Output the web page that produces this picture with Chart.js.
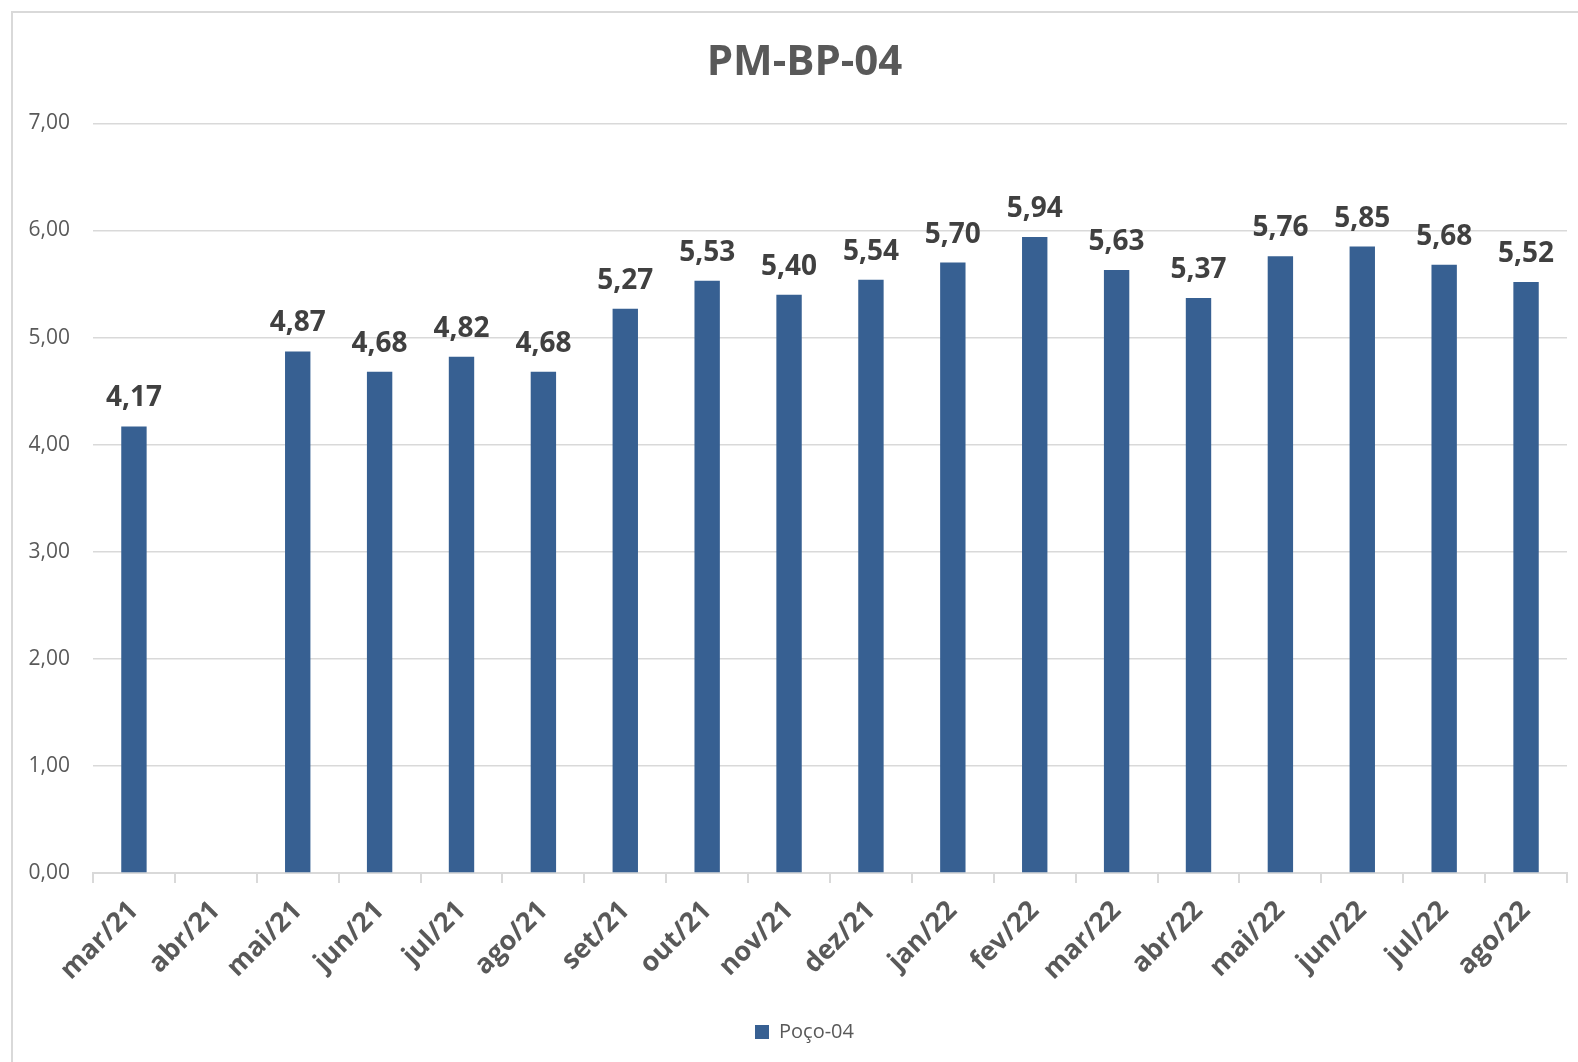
<!DOCTYPE html>
<html>
<head>
<meta charset="utf-8">
<title>PM-BP-04</title>
<script src="https://cdn.jsdelivr.net/npm/chart.js@4.4.1/dist/chart.umd.min.js"></script>
<style>
    html, body { margin: 0; padding: 0; background: #ffffff; }
    #wrap { position: relative; width: 1578px; height: 1062px; overflow: hidden; }
    #frame {
        position: absolute; left: 11px; top: 11px; right: -4px; bottom: -4px;
        border: 2px solid #d9d9d9;
    }
    #levelChart { position: absolute; left: 0; top: 0; }
</style>
</head>
<body>
<div id="wrap">
    <div id="frame"></div>
    <canvas id="levelChart" width="1578" height="1062"></canvas>
</div>
<script>
// Monthly readings for well PM-BP-04 (abr/21 has no reading)
const months = ['mar/21', 'abr/21', 'mai/21', 'jun/21', 'jul/21', 'ago/21', 'set/21', 'out/21', 'nov/21',
    'dez/21', 'jan/22', 'fev/22', 'mar/22', 'abr/22', 'mai/22', 'jun/22', 'jul/22', 'ago/22'];
const poco04 = [4.17, null, 4.87, 4.68, 4.82, 4.68, 5.27, 5.53, 5.40,
    5.54, 5.70, 5.94, 5.63, 5.37, 5.76, 5.85, 5.68, 5.52];
const yTicks = [0, 1, 2, 3, 4, 5, 6, 7];

const FONT = "'Open Sans', 'DejaVu Sans', sans-serif";
const BAR_COLOR = '#376092';
const GRID_COLOR = '#d9d9d9';

const fmt = v => v.toFixed(2).replace('.', ',');

// Value labels above each bar
const barValueLabels = {
    id: 'barValueLabels',
    afterDatasetsDraw(chart) {
        const ctx = chart.ctx;
        const meta = chart.getDatasetMeta(0);
        ctx.save();
        ctx.font = `bold 28px ${FONT}`;
        ctx.fillStyle = '#404040';
        ctx.textAlign = 'center';
        ctx.textBaseline = 'alphabetic';
        meta.data.forEach((bar, i) => {
            const v = chart.data.datasets[0].data[i];
            if (v === null || v === undefined) return;
            ctx.fillText(fmt(v), bar.x, bar.y - 20);
        });
        ctx.restore();
    }
};

// Center title and legend over the framed area instead of the full canvas
const centerBlocks = {
    id: 'centerBlocks',
    afterLayout(chart) {
        if (chart.titleBlock) chart.titleBlock.left += 42;
        if (chart.legend) chart.legend.left += 42;
    }
};

new Chart(document.getElementById('levelChart'), {
    type: 'bar',
    data: {
        labels: months,
        datasets: [{
            label: 'Poço-04',
            data: poco04,
            backgroundColor: BAR_COLOR,
            borderWidth: 0,
            barPercentage: 0.31,
            categoryPercentage: 1
        }]
    },
    options: {
        responsive: false,
        animation: false,
        devicePixelRatio: 1,
        layout: { padding: { left: 0, right: 11, top: 0, bottom: 10 } },
        plugins: {
            title: {
                display: true,
                text: 'PM-BP-04',
                color: '#595959',
                font: { family: FONT, size: 42, weight: 'bold', lineHeight: 1.2 },
                padding: { top: 38, bottom: 35 }
            },
            legend: {
                position: 'bottom',
                labels: {
                    color: '#595959',
                    font: { family: FONT, size: 20 },
                    boxWidth: 14,
                    boxHeight: 14,
                    padding: 10
                }
            },
            tooltip: { enabled: false }
        },
        scales: {
            x: {
                offset: true,
                grid: {
                    offset: true,
                    drawOnChartArea: false,
                    drawTicks: true,
                    tickLength: 10,
                    color: GRID_COLOR,
                    lineWidth: 2
                },
                border: { display: true, color: GRID_COLOR, width: 2 },
                ticks: {
                    color: '#595959',
                    font: { family: FONT, size: 27, weight: 'bold' },
                    minRotation: 45,
                    maxRotation: 45,
                    autoSkip: false,
                    padding: 12
                },
                afterFit(scale) { scale.height = 139; }
            },
            y: {
                min: 0,
                max: 7,
                afterBuildTicks(scale) {
                    scale.ticks = yTicks.map(v => ({ value: v }));
                },
                grid: { color: GRID_COLOR, lineWidth: 1.5, drawTicks: false },
                border: { display: false },
                ticks: {
                    color: '#595959',
                    font: { family: FONT, size: 21 },
                    padding: 23,
                    callback: v => fmt(v)
                },
                afterFit(scale) { scale.width = 93; }
            }
        }
    },
    plugins: [barValueLabels, centerBlocks]
});
</script>
</body>
</html>
